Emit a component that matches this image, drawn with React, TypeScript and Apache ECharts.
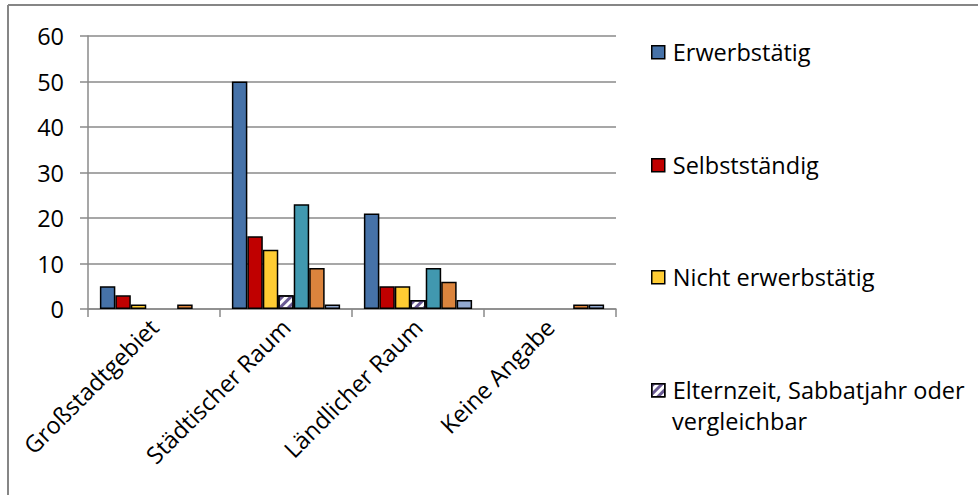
import React, { useEffect, useRef } from "react";
import * as echarts from "echarts";

// Gebietstypen auf der Kategorienachse
const categories = ["Großstadtgebiet", "Städtischer Raum", "Ländlicher Raum", "Keine Angabe"];

// Werte je Erwerbsstatus (Reihenfolge wie Kategorien)
const erwerbstaetig = [5, 50, 21, 0];
const selbststaendig = [3, 16, 5, 0];
const nichtErwerbstaetig = [1, 13, 5, 0];
const elternzeit = [0, 3, 2, 0];
const ausbildung = [0, 23, 9, 0];
const rente = [1, 9, 6, 1];
const sonstiges = [0, 1, 2, 1];

const yTicks = [0, 10, 20, 30, 40, 50, 60];

const seriesNames = [
  "Erwerbstätig",
  "Selbstständig",
  "Nicht erwerbstätig",
  "Elternzeit, Sabbatjahr oder vergleichbar",
  "In Ausbildung",
  "Rente",
  "Sonstiges",
];
const seriesValues = [
  erwerbstaetig,
  selbststaendig,
  nichtErwerbstaetig,
  elternzeit,
  ausbildung,
  rente,
  sonstiges,
];
const seriesColors = ["#4672a8", "#c00000", "#ffcc33", "#ffffff", "#4198af", "#db843d", "#93a9cf"];

const FONT = "'Open Sans', 'Noto Sans', sans-serif";
const FONT_SIZE = 23.5;
const GRID_COLOR = "#8a8a8a";

export default function App() {
  const ref = useRef<HTMLDivElement>(null);

  useEffect(() => {
    if (!ref.current) return;
    const chart = echarts.init(ref.current, undefined, { renderer: "svg" });

    const hatch = {
      symbol: "rect",
      symbolSize: 1,
      color: "#6a5a94",
      backgroundColor: "#ffffff",
      dashArrayX: [1, 0],
      dashArrayY: [2.5, 2.5],
      rotation: -Math.PI / 4,
    };

    // Nullwerte werden als leere Stelle gezeichnet (kein flacher Balkenrand)
    const series = seriesNames.map((name, i) => ({
      name,
      type: "bar",
      data: seriesValues[i].map((v) => (v === 0 ? "-" : v)),
      barGap: "0%",
      barCategoryGap: "18%",
      itemStyle: {
        color: seriesColors[i],
        borderColor: "#000000",
        borderWidth: 1.5,
        ...(i === 3 ? { decal: hatch } : {}),
      },
    }));

    const legendCenters = [52, 165, 277, 390];
    const legends = legendCenters.map((cy, i) => ({
      show: true,
      orient: "vertical",
      left: 651,
      top: cy - FONT_SIZE / 2,
      padding: 0,
      itemWidth: 13,
      itemHeight: 13,
      itemGap: 0,
      selectedMode: false,
      data: [{ name: seriesNames[i], icon: "rect" }],
      formatter: (n: string) => (i === 3 ? "Elternzeit, Sabbatjahr oder" : n),
      itemStyle: { borderColor: "#000000", borderWidth: 1.5 },
      textStyle: {
        fontFamily: FONT,
        fontSize: FONT_SIZE,
        lineHeight: FONT_SIZE,
        color: "#000000",
        padding: [0, 0, 0, 3],
      },
    }));

    chart.setOption({
      animation: false,
      backgroundColor: "#ffffff",
      grid: { left: 88, right: 362, top: 36, bottom: 186, containLabel: false },
      legend: legends,
      xAxis: {
        type: "category",
        data: categories,
        axisLine: { lineStyle: { color: GRID_COLOR, width: 1.5 } },
        axisTick: { show: true, length: 8, lineStyle: { color: GRID_COLOR, width: 1.5 } },
        axisLabel: {
          rotate: 45,
          margin: 14,
          color: "#000000",
          fontFamily: FONT,
          fontSize: FONT_SIZE,
          interval: 0,
        },
      },
      yAxis: {
        type: "value",
        min: yTicks[0],
        max: yTicks[yTicks.length - 1],
        interval: 10,
        axisLine: { show: true, lineStyle: { color: GRID_COLOR, width: 1.5 } },
        axisTick: { show: true, length: 8, lineStyle: { color: GRID_COLOR, width: 1.5 } },
        splitLine: { lineStyle: { color: GRID_COLOR, width: 1.5 } },
        axisLabel: {
          margin: 24,
          color: "#000000",
          fontFamily: FONT,
          fontSize: FONT_SIZE,
        },
      },
      series,
      graphic: [
        {
          type: "line",
          shape: { x1: 8, y1: 5, x2: 978, y2: 5 },
          style: { stroke: "#868686", lineWidth: 2 },
        },
        {
          type: "line",
          shape: { x1: 8, y1: 5, x2: 8, y2: 495 },
          style: { stroke: "#868686", lineWidth: 2 },
        },
        {
          // zweite Zeile des vierten Legendeneintrags
          type: "text",
          left: 672,
          top: 409,
          style: {
            text: "vergleichbar",
            fill: "#000000",
            font: `${FONT_SIZE}px ${FONT}`,
            lineHeight: FONT_SIZE,
          },
        },
      ],
    });

    return () => chart.dispose();
  }, []);

  return (
    <div
      ref={ref}
      style={{ position: "fixed", left: 0, top: 0, width: 978, height: 495, background: "#ffffff" }}
    />
  );
}
